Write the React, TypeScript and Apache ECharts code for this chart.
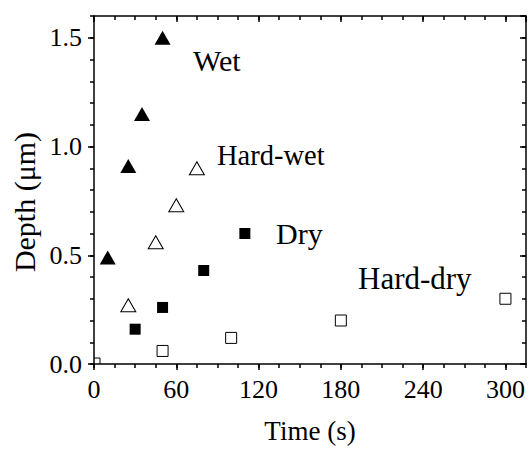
import React, { useEffect, useRef } from "react";
import * as echarts from "echarts";

const FONT = "Times New Roman";

const wetX = [10, 25, 35, 50];
const wetY = [0.49, 0.91, 1.15, 1.5];
const hardWetX = [25, 45, 60, 75];
const hardWetY = [0.27, 0.56, 0.73, 0.9];
const dryX = [30, 50, 80, 110];
const dryY = [0.16, 0.26, 0.43, 0.6];
const hardDryX = [0, 50, 100, 180, 300];
const hardDryY = [0, 0.06, 0.12, 0.2, 0.3];

const xMin = 0, xMax = 315, xMajor = 60, xMinor = 15;
const yMin = 0, yMax = 1.6, yMajor = 0.5, yMinor = 0.1;

export default function App() {
  const ref = useRef<HTMLDivElement>(null);
  useEffect(() => {
    if (!ref.current) return;
    const chart = echarts.init(ref.current, null, { renderer: "svg" });
    const line = { color: "#000", width: 1.5 };
    const noLine = { show: false };
    const txt = { color: "#000", fontFamily: FONT, fontWeight: "normal" as const };
    const gtxt = { fill: "#000", fontFamily: FONT, fontWeight: "normal" as const, align: "left" as const, verticalAlign: "middle" as const };
    const xAxisBase = { type: "value", min: xMin, max: xMax, splitLine: { show: false } };
    const yAxisBase = { type: "value", min: yMin, max: yMax, splitLine: { show: false } };

    // points sitting on the axes corner are drawn as the part of the open square inside the plot
    const hardDryData = hardDryX.map((x, i) => {
      const y = hardDryY[i];
      if (x === xMin && y === yMin) {
        return {
          value: [x, y],
          symbol: "path://M0,0 L6,0 L6,6",
          symbolSize: [6, 6],
          symbolOffset: [3, -3],
          itemStyle: { color: "transparent", borderColor: "#000", borderWidth: 1 },
        };
      }
      return [x, y];
    });

    chart.setOption({
      animation: false,
      backgroundColor: "#fff",
      textStyle: { fontFamily: FONT, fontWeight: "normal" },
      grid: { left: 94, right: 3, top: 16, bottom: 83, containLabel: false },
      xAxis: [
        {
          ...xAxisBase,
          position: "bottom",
          interval: xMajor,
          axisLine: { show: true, onZero: false, lineStyle: line },
          axisTick: { show: true, inside: false, length: 6, lineStyle: line },
          axisLabel: { show: true, showMaxLabel: false, fontSize: 26, margin: 12, ...txt },
          name: "Time (s)",
          nameLocation: "middle",
          nameGap: 53,
          nameTextStyle: { fontSize: 27, ...txt },
        },
        {
          ...xAxisBase,
          position: "bottom",
          interval: xMinor,
          axisLine: { ...noLine, onZero: false },
          axisTick: { show: true, inside: false, length: 4, lineStyle: line },
          axisLabel: { show: false },
        },
        {
          ...xAxisBase,
          position: "top",
          interval: xMajor,
          axisLine: { show: true, onZero: false, lineStyle: line },
          axisTick: { show: true, inside: true, length: 6, lineStyle: line },
          axisLabel: { show: false },
        },
        {
          ...xAxisBase,
          position: "top",
          interval: xMinor,
          axisLine: { ...noLine, onZero: false },
          axisTick: { show: true, inside: true, length: 4, lineStyle: line },
          axisLabel: { show: false },
        },
      ],
      yAxis: [
        {
          ...yAxisBase,
          position: "left",
          interval: yMajor,
          axisLine: { show: true, onZero: false, lineStyle: line },
          axisTick: { show: true, inside: false, length: 6, lineStyle: line },
          axisLabel: {
            show: true,
            showMaxLabel: false,
            fontSize: 26,
            margin: 12,
            ...txt,
            formatter: (v: number) => v.toFixed(1),
          },
        },
        {
          ...yAxisBase,
          position: "left",
          interval: yMinor,
          axisLine: { ...noLine, onZero: false },
          axisTick: { show: true, inside: false, length: 4, lineStyle: line },
          axisLabel: { show: false },
        },
        {
          ...yAxisBase,
          position: "right",
          interval: yMajor,
          axisLine: { show: true, onZero: false, lineStyle: line },
          axisTick: { show: true, inside: true, length: 6, lineStyle: line },
          axisLabel: { show: false },
        },
        {
          ...yAxisBase,
          position: "right",
          interval: yMinor,
          axisLine: { ...noLine, onZero: false },
          axisTick: { show: true, inside: true, length: 4, lineStyle: line },
          axisLabel: { show: false },
        },
      ],
      series: [
        {
          name: "Wet",
          type: "scatter",
          symbol: "triangle",
          symbolSize: [16, 14],
          itemStyle: { color: "#000", opacity: 1 },
          data: wetX.map((x, i) => [x, wetY[i]]),
          clip: true,
        },
        {
          name: "Hard-wet",
          type: "scatter",
          symbol: "triangle",
          symbolSize: [15, 13],
          itemStyle: { color: "#fff", borderColor: "#000", borderWidth: 1, opacity: 1 },
          data: hardWetX.map((x, i) => [x, hardWetY[i]]),
          clip: true,
        },
        {
          name: "Dry",
          type: "scatter",
          symbol: "rect",
          symbolSize: 11,
          itemStyle: { color: "#000", opacity: 1 },
          data: dryX.map((x, i) => [x, dryY[i]]),
          clip: true,
        },
        {
          name: "Hard-dry",
          type: "scatter",
          symbol: "rect",
          symbolSize: 11,
          itemStyle: { color: "#fff", borderColor: "#000", borderWidth: 1, opacity: 1 },
          data: hardDryData,
          clip: true,
        },
      ],
      graphic: [
        { type: "text", x: 24, y: 202, rotation: Math.PI / 2, style: { ...gtxt, text: "Depth (μm)", fontSize: 30, align: "center" } },
        { type: "text", x: 193, y: 60, style: { ...gtxt, text: "Wet", fontSize: 30 } },
        { type: "text", x: 217, y: 155, style: { ...gtxt, text: "Hard-wet", fontSize: 28.5 } },
        { type: "text", x: 276, y: 233, style: { ...gtxt, text: "Dry", fontSize: 30 } },
        { type: "text", x: 358, y: 278, style: { ...gtxt, text: "Hard-dry", fontSize: 31 } },
      ],
    });
    return () => chart.dispose();
  }, []);
  return <div ref={ref} style={{ position: "fixed", left: 0, top: 0, width: 529, height: 449 }} />;
}
